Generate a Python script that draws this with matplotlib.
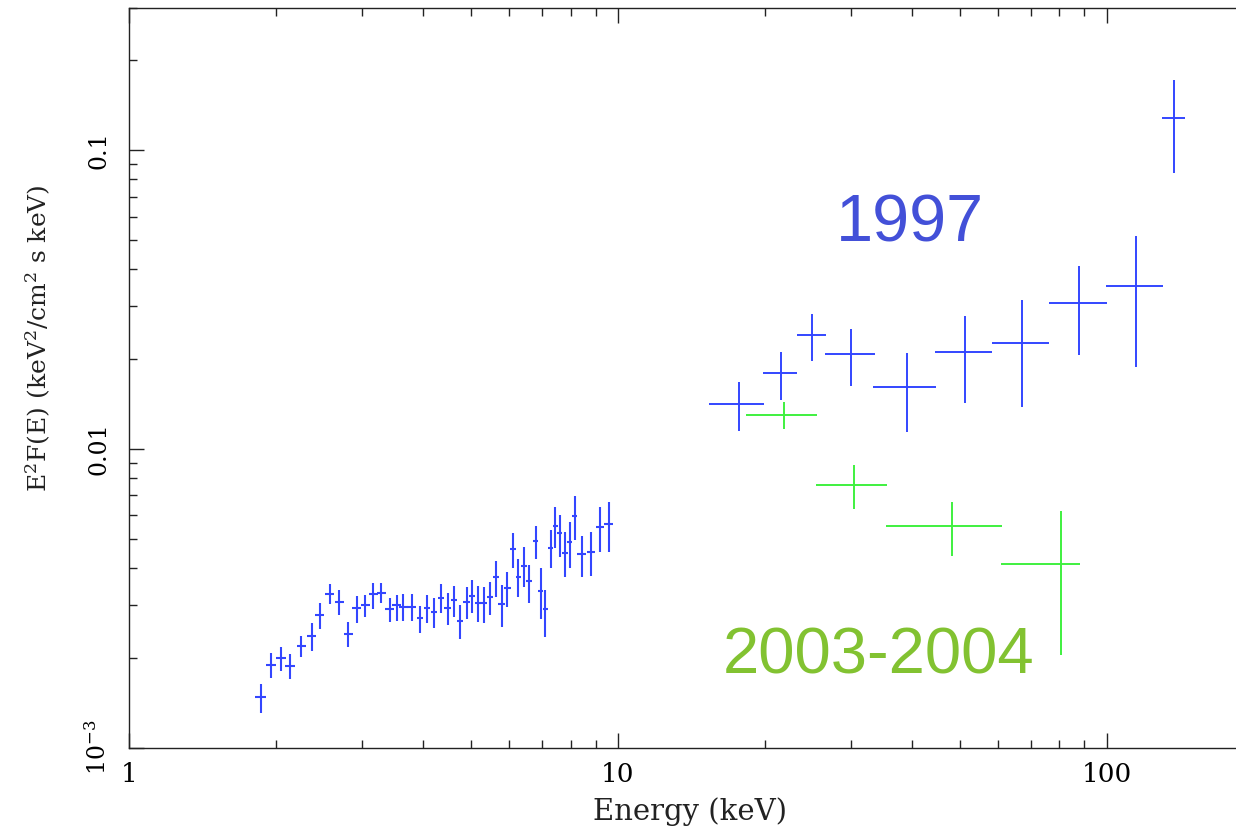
import numpy as np
import matplotlib
matplotlib.use("Agg")
import matplotlib.pyplot as plt
from matplotlib.ticker import LogLocator, FixedLocator, FixedFormatter, NullFormatter

# ---------------- data ----------------
# 1997 low-energy spectrum (keV, E^2F(E))
e_low = [1.858, 1.951, 2.042, 2.134, 2.250, 2.363, 2.458, 2.576, 2.691, 2.808,
         2.921, 3.041, 3.158, 3.280, 3.412, 3.526, 3.637, 3.784, 3.934, 4.072,
         4.203, 4.344, 4.483, 4.618, 4.757, 4.902, 5.033, 5.176, 5.317, 5.477,
         5.634, 5.780, 5.945, 6.104, 6.261, 6.420, 6.582, 6.784, 6.945, 7.110,
         7.289, 7.452, 7.603, 7.796, 7.970, 8.159, 8.433, 8.811, 9.181, 9.576]
e_low_err = [0.044, 0.046, 0.048, 0.050, 0.048, 0.050, 0.052, 0.055, 0.057, 0.059,
             0.062, 0.064, 0.067, 0.069, 0.072, 0.075, 0.077, 0.080, 0.061, 0.063,
             0.065, 0.067, 0.070, 0.072, 0.074, 0.076, 0.078, 0.080, 0.083, 0.085,
             0.087, 0.090, 0.092, 0.078, 0.080, 0.082, 0.084, 0.086, 0.088, 0.090,
             0.093, 0.095, 0.097, 0.099, 0.101, 0.104, 0.167, 0.174, 0.182, 0.189]
f_low = [1.482, 1.891, 1.993, 1.877, 2.195, 2.360, 2.775, 3.279, 3.082, 2.402,
         2.929, 3.004, 3.264, 3.304, 2.913, 3.004, 2.965, 2.965, 2.712, 2.929,
         2.853, 3.178, 2.929, 3.122, 2.662, 3.068, 3.228, 3.044, 3.044, 3.188,
         3.720, 3.028, 3.424, 4.616, 3.737, 4.059, 3.614, 4.920, 3.346, 2.913,
         4.674, 5.537, 5.222, 4.496, 4.872, 5.967, 4.441, 4.531, 5.482, 5.597]
f_low_lo = [1.310, 1.716, 1.806, 1.694, 2.017, 2.112, 2.497, 3.028, 2.782, 2.168,
            2.622, 2.733, 2.913, 3.044, 2.642, 2.656, 2.662, 2.662, 2.415, 2.609,
            2.522, 2.818, 2.575, 2.745, 2.311, 2.691, 2.831, 2.642, 2.609, 2.782,
            3.203, 2.542, 2.965, 3.988, 3.203, 3.443, 3.059, 4.283, 2.691, 2.353,
            3.988, 4.652, 4.360, 3.720, 4.006, 4.958, 3.737, 3.766, 4.531, 4.531]
f_low_hi = [1.634, 2.070, 2.168, 2.059, 2.366, 2.609, 3.044, 3.524, 3.373, 2.630,
            3.228, 3.245, 3.568, 3.568, 3.178, 3.245, 3.264, 3.264, 2.981, 3.245,
            3.163, 3.524, 3.289, 3.486, 3.004, 3.443, 3.643, 3.478, 3.459, 3.596,
            4.227, 3.505, 3.885, 5.246, 4.273, 4.688, 4.090, 5.537, 3.988, 3.373,
            5.357, 6.410, 6.012, 5.262, 5.710, 6.960, 5.113, 5.286, 6.410, 6.630]
low_scale = 1e-3

# 1997 high-energy points
e_hi = [17.65, 21.54, 24.94, 30.01, 38.99, 51.33, 66.99, 87.90, 114.8, 137.5]
e_hi_lo = [15.33, 19.80, 23.20, 26.56, 33.29, 44.52, 58.10, 76.15, 99.6, 129.9]
e_hi_hi = [19.86, 23.28, 26.69, 33.49, 44.78, 58.29, 76.32, 99.96, 130.4, 144.8]
f_hi = [0.01411, 0.01792, 0.02408, 0.02075, 0.01609, 0.02107, 0.02264, 0.03089, 0.03521, 0.1280]
f_hi_lo = [0.01149, 0.01459, 0.01975, 0.01625, 0.01137, 0.01422, 0.01386, 0.02069, 0.01877, 0.08414]
f_hi_hi = [0.01673, 0.02117, 0.02825, 0.02516, 0.02091, 0.02795, 0.03154, 0.04101, 0.05166, 0.1720]

# 2003-2004 points
e_g = [21.85, 30.44, 48.12, 80.76]
e_g_lo = [18.25, 25.37, 35.39, 60.80]
e_g_hi = [25.50, 35.55, 60.98, 88.31]
f_g = [0.01297, 0.007576, 0.005523, 0.004111]
f_g_lo = [0.01164, 0.006297, 0.004384, 0.002044]
f_g_hi = [0.01433, 0.008841, 0.006660, 0.006201]

y_ticks = [1e-3, 1e-2, 1e-1]
y_ticklabels = [r'10$^{-3}$', '0.01', '0.1']
x_ticks = [1, 10, 100]
x_ticklabels = ['1', '10', '100']

# ---------------- plot ----------------
plt.rcParams['font.family'] = ['DejaVu Serif']
plt.rcParams['mathtext.fontset'] = 'dejavuserif'

fig = plt.figure(figsize=(12.36, 8.27), dpi=100)
ax = fig.add_axes([129/1236, 79.3/827, 1125/1236, 739.9/827])

blue = '#3346ff'
green = '#3ff03f'

fl = np.array(f_low) * low_scale
fll = np.array(f_low_lo) * low_scale
flh = np.array(f_low_hi) * low_scale
ax.errorbar(e_low, fl, xerr=e_low_err, yerr=[fl - fll, flh - fl],
            fmt='none', ecolor=blue, elinewidth=1.5, capsize=0)

eh = np.array(e_hi); fh = np.array(f_hi)
ax.errorbar(eh, fh, xerr=[eh - np.array(e_hi_lo), np.array(e_hi_hi) - eh],
            yerr=[fh - np.array(f_hi_lo), np.array(f_hi_hi) - fh],
            fmt='none', ecolor=blue, elinewidth=1.4, capsize=0)

eg = np.array(e_g); fg = np.array(f_g)
ax.errorbar(eg, fg, xerr=[eg - np.array(e_g_lo), np.array(e_g_hi) - eg],
            yerr=[fg - np.array(f_g_lo), np.array(f_g_hi) - fg],
            fmt='none', ecolor=green, elinewidth=1.4, capsize=0)

ax.set_xscale('log')
ax.set_yscale('log')
ax.set_xlim(1, 200)
ax.set_ylim(1e-3, 0.3)

ax.xaxis.set_major_locator(FixedLocator(x_ticks))
ax.xaxis.set_major_formatter(FixedFormatter(x_ticklabels))
ax.xaxis.set_minor_locator(LogLocator(base=10, subs=np.arange(2, 10)))
ax.xaxis.set_minor_formatter(NullFormatter())
ax.yaxis.set_major_locator(FixedLocator(y_ticks))
ax.yaxis.set_major_formatter(FixedFormatter(y_ticklabels))
ax.yaxis.set_minor_locator(LogLocator(base=10, subs=np.arange(2, 10)))
ax.yaxis.set_minor_formatter(NullFormatter())

ax.tick_params(which='both', direction='in', top=True, right=True, width=1.0, color='#222222')
ax.tick_params(which='major', length=11)
ax.tick_params(which='minor', length=6)
ax.tick_params(axis='x', which='major', labelsize=19, pad=10)
ax.tick_params(axis='y', which='major', labelsize=17, pad=13, labelrotation=90)
for lab in ax.get_yticklabels():
    lab.set_va('center')

for s in ax.spines.values():
    s.set_linewidth(1.0)
    s.set_color('#222222')

ax.set_xlabel('Energy (keV)', fontsize=21, color='#222222')
ax.xaxis.set_label_coords(0.4987, -0.067)
ax.set_ylabel(r'E$^2$F(E) (keV$^2$/cm$^2$ s keV)', fontsize=18, color='#222222')
ax.yaxis.set_label_coords(-0.0676, 0.5535)

ax.text(910/1236, (827 - 224)/827, '1997', transform=fig.transFigure,
        fontsize=48, color='#4350d8', family='Liberation Sans', ha='center', va='center')
ax.text(879/1236, (827 - 656)/827, '2003-2004', transform=fig.transFigure,
        fontsize=47, color='#82c231', family='Liberation Sans', ha='center', va='center')

fig.savefig('out.png', dpi=100)
